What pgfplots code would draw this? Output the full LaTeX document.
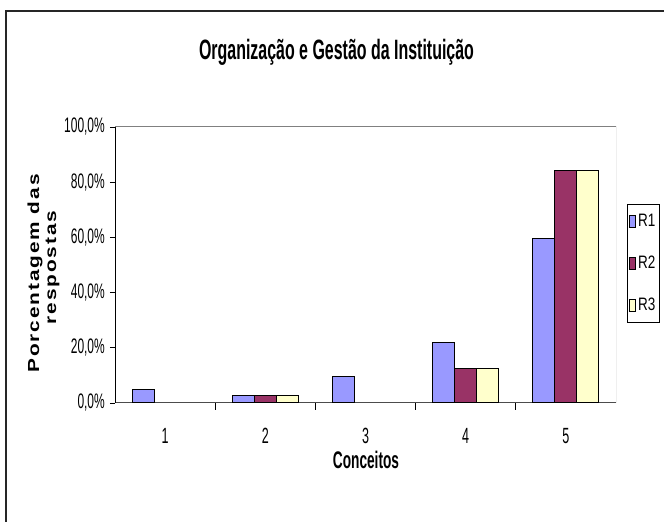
\documentclass[border=0pt]{standalone}
\usepackage{fontspec}
\setmainfont{Liberation Sans}[FakeStretch=0.57]
\newfontfamily\ylabfont{Liberation Sans}[FakeStretch=1.3, LetterSpace=12]
\newfontfamily\legfont{Liberation Sans}[FakeStretch=0.75]
\usepackage{pgfplots}
\pgfplotsset{compat=1.18}
\definecolor{rone}{HTML}{9999FF}
\definecolor{rtwo}{HTML}{993366}
\definecolor{rthree}{HTML}{FFFFCC}
\begin{document}
\begin{tikzpicture}
\useasboundingbox (0,0) rectangle (664bp,522bp);
\fill[white] (0,0) rectangle (664bp,522bp);
\draw[line width=1.5bp, black!85] (6bp,0) -- (6bp,511bp) -- (664bp,511bp);
\node[anchor=base, font=\bfseries\fontsize{28bp}{28bp}\selectfont] at (336.5bp,462bp) {Organização e Gestão da Instituição};
\node[anchor=base, inner sep=0pt, font=\bfseries\fontsize{24bp}{24bp}\selectfont] at (366bp,53bp) {Conceitos};
\node[rotate=90, anchor=base, inner sep=0pt, font=\ylabfont\bfseries\fontsize{16bp}{16bp}\selectfont] at (39bp,248.5bp) {Porcentagem das};
\node[rotate=90, anchor=base, inner sep=0pt, font=\ylabfont\bfseries\fontsize{16bp}{16bp}\selectfont] at (56bp,254.5bp) {respostas};
\begin{axis}[
  at={(115bp,119bp)}, anchor=south west,
  scale only axis, width=501bp, height=276bp,
  xmin=0.5, xmax=5.5, ymin=0, ymax=100,
  ybar=0pt, bar width=22bp,
  axis x line*=bottom, axis y line*=left,
  x axis line style={-, draw=black!70, line width=1bp},
  y axis line style={-, draw=black, line width=1bp},
  xtick={1,2,3,4,5}, xticklabels={1,2,3,4,5},
  major x tick style={draw=none},
  minor xtick={1.5,2.5,3.5,4.5},
  tick align=outside,
  major tick length=5bp, minor tick length=7bp,
  tick style={black, line width=0.8bp},
  minor tick style={black, line width=0.8bp},
  ytick={0,20,40,60,80,100},
  yticklabels={{0,0\%},{20,0\%},{40,0\%},{60,0\%},{80,0\%},{100,0\%}},
  yticklabel style={font=\fontsize{21bp}{21bp}\selectfont, inner sep=1bp, xshift=-4bp},
  xticklabel style={font=\fontsize{22bp}{22bp}\selectfont, inner sep=0bp, yshift=-20bp},
  legend style={at={(axis description cs:1.022,0.721)}, anchor=north west,
    draw=black, line width=0.8bp, font=\legfont\fontsize{18bp}{18bp}\selectfont,
    inner xsep=2bp, inner ysep=8bp, row sep=24bp},
  legend cell align=left,
  legend image code/.code={\draw[#1, line width=0.6bp] (0bp,-6bp) rectangle (6bp,6bp);},
]
\addplot[fill=rone, draw=black, line width=1bp] coordinates {(1,5.0) (2,2.8) (3,9.7) (4,22.1) (5,59.6)};
\addplot[fill=rtwo, draw=black, line width=1bp] coordinates {(2,2.8) (4,12.5) (5,84.3)};
\addplot[fill=rthree, draw=black, line width=1bp] coordinates {(2,2.8) (4,12.5) (5,84.3)};
\legend{R1,R2,R3}
\draw[gray, line width=1bp] (rel axis cs:0,1) -- (rel axis cs:1,1) -- (rel axis cs:1,0);
\end{axis}
\end{tikzpicture}
\end{document}
